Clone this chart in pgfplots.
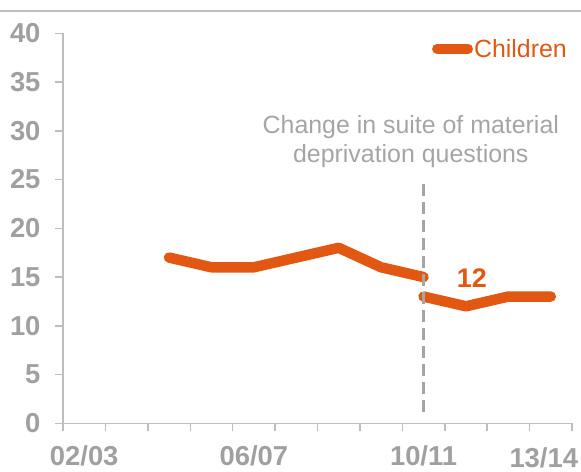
\documentclass[border=0pt]{standalone}
\usepackage{fontspec}
\setmainfont{Liberation Sans}
\usepackage{pgfplots}
\pgfplotsset{compat=1.18}
\definecolor{myorange}{RGB}{226,88,18}
\definecolor{tickgray}{RGB}{160,160,160}
\definecolor{axisgray}{RGB}{190,190,190}
\definecolor{textgray}{RGB}{165,165,165}
\begin{document}
\begin{tikzpicture}
\begin{axis}[
  scale only axis, width=509bp, height=390bp,
  xmin=-0.5, xmax=11.5, ymin=0, ymax=40,
  clip=false,
  axis lines=left,
  axis line style={axisgray, line width=1.5bp, -},
  tick align=outside,
  major tick length=8bp,
  tick style={axisgray, line width=1.5bp},
  ytick={0,5,...,40},
  xtick={-0.5,0.5,...,11.5},
  xticklabels={},
  extra x ticks={0,4,8,11},
  extra x tick labels={02/03,06/07,10/11,\raisebox{-2bp}[\height]{\hspace{-14bp}13/14}},
  extra x tick style={tick style={draw=none}},
  /pgf/number format/assume math mode=true,
  ticklabel style={font=\fontsize{27.5}{27.5}\selectfont\bfseries, text=tickgray},
  yticklabel style={xshift=-11bp},
  xticklabel style={yshift=-11bp},
  legend style={draw=none, fill=none, at={(rel axis cs:1,0.988)}, anchor=north east, xshift=-4bp,
    font=\fontsize{25}{25}\selectfont, text=myorange, inner sep=0pt,
    nodes={inner sep=1bp}},
  legend image code/.code={\draw[myorange, line width=10bp, line cap=round] (0bp,0bp) -- (31bp,0bp);},
]
\coordinate (BL) at (rel axis cs:0,0);
\addplot[myorange, line width=10.5bp, line cap=round, line join=round] coordinates {(2,17) (3,16) (4,16) (5,17) (6,18) (7,16) (8,15)};
\addlegendentry{Children}
\addplot[myorange, line width=10.5bp, line cap=round, line join=round, forget plot] coordinates {(8,13) (9,12) (10,13) (11,13)};
\addplot[textgray, line width=3bp, dash pattern=on 12bp off 6bp, forget plot] coordinates {(8,1.2) (8,24.5)};
\node[text=textgray, align=center, font=\fontsize{25}{30}\selectfont] at (axis cs:7.7,28.9) {Change in suite of material\\deprivation questions};
\node[text=myorange, font=\fontsize{27}{27}\selectfont\bfseries] at (axis cs:9.14,14.9) {12};
\end{axis}
\draw[axisgray, line width=1.5bp] (BL) ++(-63bp,412.3bp) -- ++(581bp,0bp);
\pgfresetboundingbox
\path[use as bounding box] (BL) ++(-63bp,-48.7bp) rectangle ++(581bp,472bp);
\end{tikzpicture}
\end{document}
